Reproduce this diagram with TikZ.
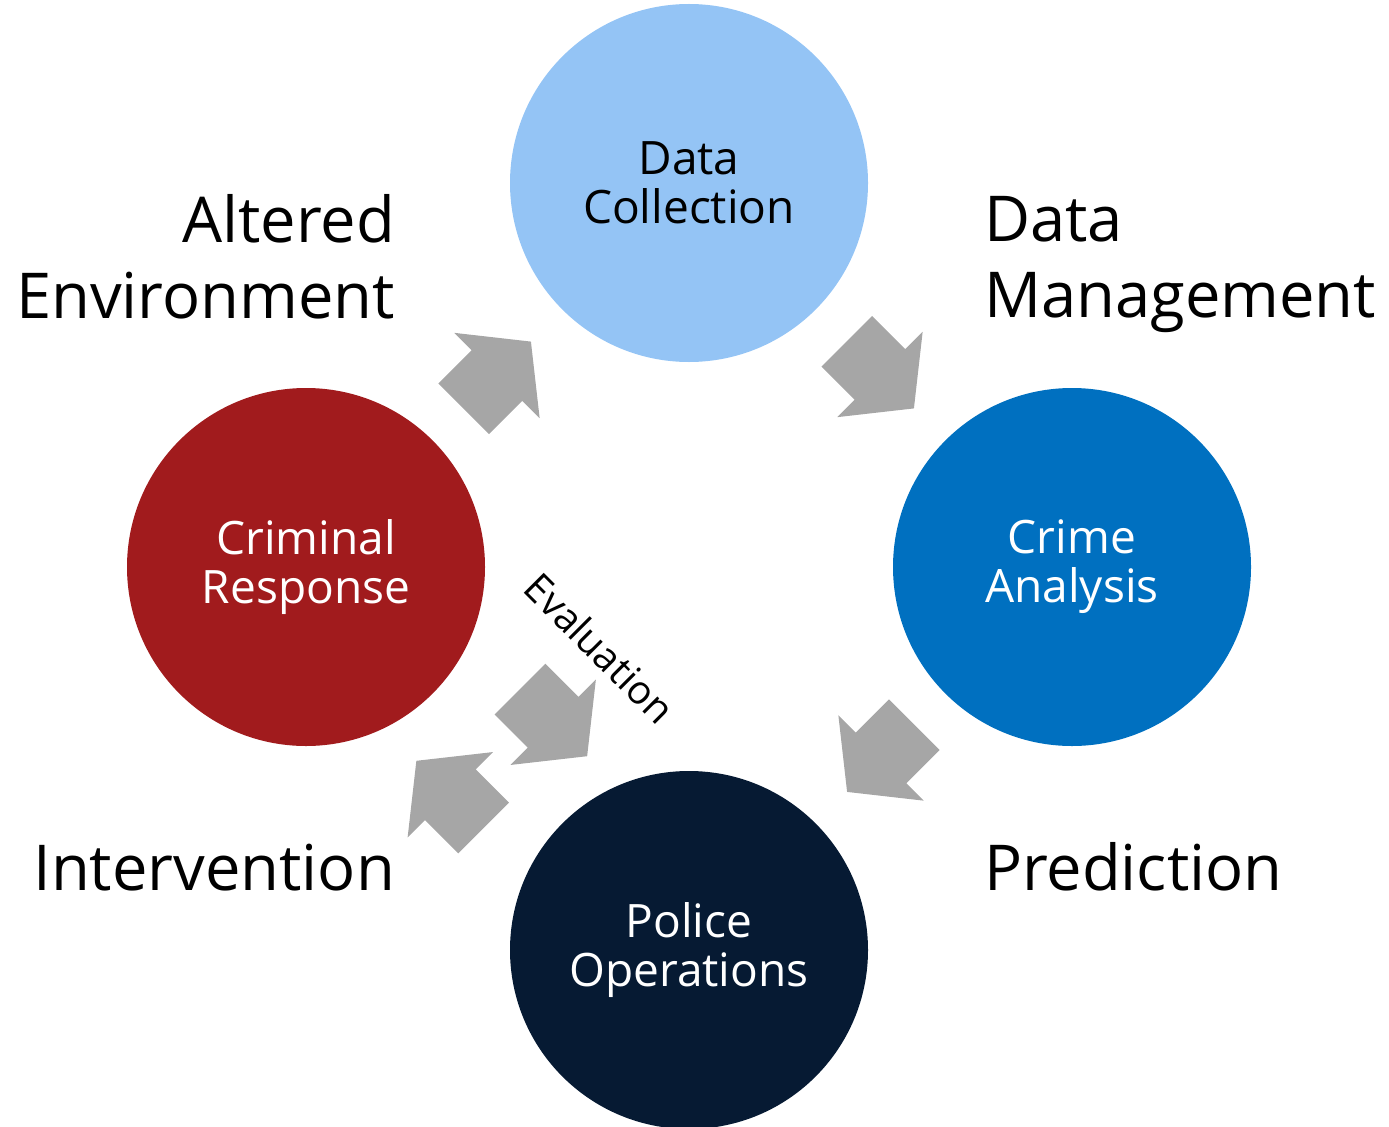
\documentclass[tikz,border=0pt]{standalone}
\usepackage{fontspec}
\setmainfont{Open Sans}
\usetikzlibrary{shapes.arrows,calc}
\definecolor{dcblue}{HTML}{94C4F5}
\definecolor{cablue}{HTML}{0070C0}
\definecolor{ponavy}{HTML}{061A33}
\definecolor{crred}{HTML}{A11B1D}
\definecolor{arrowgray}{HTML}{A6A6A6}
\begin{document}
\begin{tikzpicture}[scale=1,inner sep=0pt,outer sep=0pt,
phase/.style={circle,minimum size=7.16cm,align=center,text=white,font=\fontsize{26.2}{27.8}\selectfont},
flowarrow/.style={single arrow,fill=arrowgray,minimum height=1.9cm,inner xsep=0pt,inner ysep=0.71cm,single arrow head extend=0.49cm,single arrow tip angle=103},
steplabel/.style={font=\fontsize{36}{43.7}\selectfont}]
\useasboundingbox (0,0) rectangle (27.78,-22.52);
\draw (13.78,-3.66) node[phase,fill=dcblue,text=black] (dc) {Data\\Collection};
\draw (21.44,-11.34) node[phase,fill=cablue] (ca) {Crime\\Analysis};
\draw (13.78,-19.00) node[phase,fill=ponavy] (po) {Police\\Operations};
\draw (6.12,-11.34) node[phase,fill=crred] (cr) {Criminal\\Response};
\draw ($(dc)!.5!(ca)+(135:0.29)$) node[flowarrow,rotate=-45] (dcca) {};
\draw ($(ca)!.5!(po)+(45:0.29)$) node[flowarrow,rotate=-135] (capo) {};
\draw ($(cr)!.5!(dc)+(-135:0.29)$) node[flowarrow,rotate=45] (crdc) {};
\coordinate (mid) at ($(cr)!.5!(po)$);
\draw ($(mid)!1.3cm!90:(po)$) node[flowarrow,rotate=-45] (crpo) {};
\draw ($(mid)!1.18cm!-90:(po)+(-45:0.12)$) node[flowarrow,rotate=135] (pocr) {};
\draw (7.90,-3.88) node[steplabel,anchor=north east,align=right] (alt) {Altered\\Environment};
\draw (19.68,-3.92) node[steplabel,anchor=north west,align=left] (dm) {Data\\Management};
\draw (7.90,-17.80) node[steplabel,anchor=base east] (int) {Intervention};
\draw (19.68,-17.80) node[steplabel,anchor=base west] (pred) {Prediction};
\draw (12.0,-12.96) node[rotate=-45,font=\fontsize{22.5}{24}\selectfont] (eval) {Evaluation};
\end{tikzpicture}
\end{document}
